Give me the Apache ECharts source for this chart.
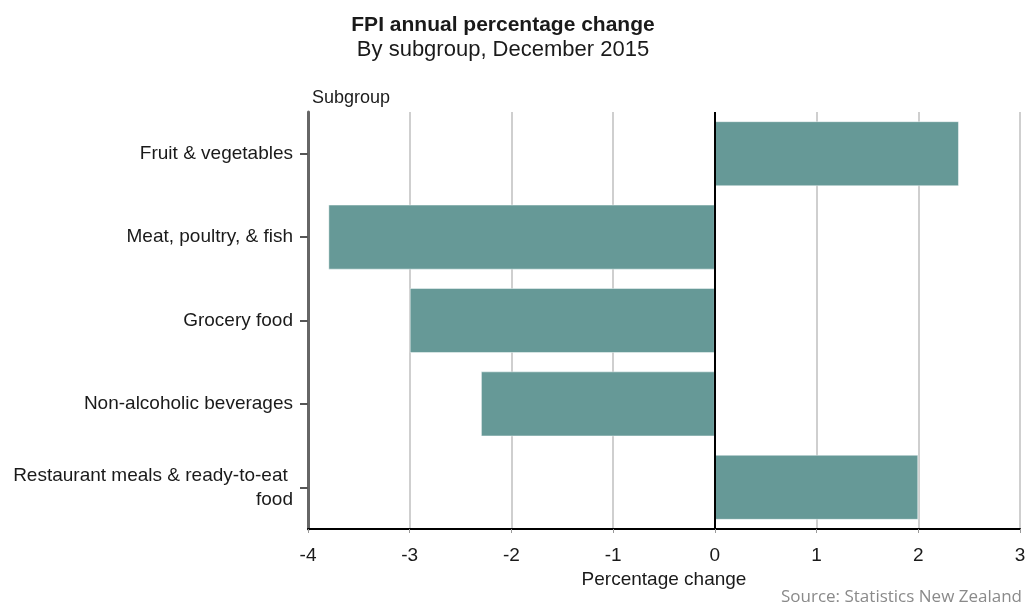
<!DOCTYPE html>
<html>
<head>
<meta charset="utf-8">
<script src="https://cdn.jsdelivr.net/npm/echarts@6/dist/echarts.min.js"></script>
<style>
  html, body { margin: 0; padding: 0; background: #fff; }
  #fpi-chart { width: 1029px; height: 610px; }
</style>
</head>
<body>
<div id="fpi-chart"></div>
<script>
const subgroups = [
  "Fruit & vegetables",
  "Meat, poultry, & fish",
  "Grocery food",
  "Non-alcoholic beverages",
  "Restaurant meals & ready-to-eat food",
];
const changes = [2.4, -3.8, -3.0, -2.3, 2.0]; // annual % change
const xTicks = [-4, -3, -2, -1, 0, 1, 2, 3];

const myChart = echarts.init(document.getElementById("fpi-chart"));

const option = {
  animation: false,
  textStyle: { fontFamily: "Liberation Sans, Arial, sans-serif" },
  title: {
    text: "FPI annual percentage change",
    subtext: "By subgroup, December 2015",
    left: 498,
    top: 10,
    textAlign: "center",
    itemGap: 3,
    textStyle: { fontSize: 21, fontWeight: "bold", color: "#1a1a1a" },
    subtextStyle: { fontSize: 22, color: "#1a1a1a" },
  },
  grid: { left: 308, right: 9, top: 112, bottom: 81 },
  xAxis: {
    type: "value",
    min: xTicks[0],
    max: xTicks[xTicks.length - 1],
    interval: 1,
    name: "Percentage change",
    nameLocation: "middle",
    nameGap: 35,
    nameTextStyle: { fontSize: 19, color: "#1a1a1a" },
    axisLine: { show: true, lineStyle: { color: "#000", width: 2 } },
    axisTick: { show: true, length: 4, lineStyle: { color: "#999" } },
    axisLabel: { fontSize: 19, color: "#1a1a1a", margin: 17 },
    splitLine: { show: true, lineStyle: { color: "#cfcfcf", width: 2 } },
  },
  yAxis: {
    type: "category",
    data: subgroups,
    inverse: true,
    name: "Subgroup",
    nameLocation: "start",
    nameGap: 5,
    nameTextStyle: { fontSize: 18, color: "#1a1a1a", align: "left", padding: [0, 0, 0, 4] },
    axisLine: { onZero: false, lineStyle: { color: "#666", width: 3 } },
    axisTick: { show: true, alignWithLabel: true, length: 8, lineStyle: { color: "#555", width: 2 } },
    axisLabel: {
      fontSize: 19,
      color: "#1a1a1a",
      margin: 15,
      width: 290,
      overflow: "break",
      lineHeight: 24,
    },
    splitLine: { show: false },
  },
  series: [
    {
      type: "bar",
      data: changes,
      barCategoryGap: "22%",
      itemStyle: {
        color: "#669997",
        borderColor: "rgba(255,255,255,0.45)",
        borderWidth: 1,
      },
      markLine: {
        silent: true,
        symbol: "none",
        label: { show: false },
        lineStyle: { color: "#000", width: 2, type: "solid" },
        data: [{ xAxis: 0 }],
      },
    },
  ],
  graphic: [
    {
      type: "text",
      right: 7,
      top: 589,
      style: {
        text: "Source: Statistics New Zealand",
        font: "17px 'Open Sans', sans-serif",
        fill: "#8a8a8a",
      },
    },
  ],
};

myChart.setOption(option);
</script>
</body>
</html>
